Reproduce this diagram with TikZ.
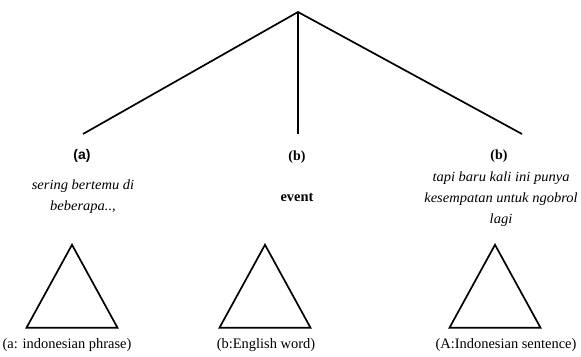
\documentclass[tikz,border=0pt]{standalone}
\usepackage{fontspec}
\setmainfont{Liberation Serif}
\setsansfont{Liberation Sans}
\newfontfamily\wideit[FakeStretch=1.04]{Liberation Serif Italic}
\usepackage{tikz}
\usetikzlibrary{shapes.geometric,positioning}

\begin{document}
\begin{tikzpicture}[x=1bp,y=-1bp,
  branch/.style={line width=1.7bp,black},
  tag/.style={font=\bfseries\fontsize{14}{16}\selectfont,inner sep=1pt},
  words/.style={font=\wideit\fontsize{14}{21}\selectfont,align=center,inner sep=1pt},
  tri/.style={draw,line width=1.7bp,isosceles triangle,isosceles triangle apex angle=57.5,
    shape border rotate=90,minimum height=83bp,inner sep=0pt,anchor=apex},
  gloss/.style={font=\fontsize{14.5}{16}\selectfont,inner sep=1pt}]
\useasboundingbox (0,0) rectangle (581,356);
\coordinate (root) at (298,12);
\coordinate (la) at (83,134);
\coordinate (lb) at (298,134);
\coordinate (lc) at (522,134);
\draw[branch] (la)--(root)--(lc);
\draw[branch] (root)--(lb);
\node[tag,font=\sffamily\bfseries\fontsize{14}{16}\selectfont] (ta) at (82,156) {(a)};
\node[tag] (tb) at (297,157) {(b)};
\node[tag] (tc) at (499,156) {(b)};
\node[words] (wa) at (83,197) {sering bertemu di\\ beberapa..,};
\node[tag,font=\bfseries\fontsize{14.5}{16}\selectfont] (wb) at (297,197) {event};
\node[words] (wc) at (501,199) {tapi baru kali ini punya\\ kesempatan untuk ngobrol\\ lagi};
\node[tri] (xa) at (72,243) {};
\node[tri] (xb) at (265,243) {};
\node[tri] (xc) at (495,243) {};
\node[gloss] (ga) at (67,345) {(a: indonesian phrase)};
\node[gloss] (gb) at (266,345) {(b:English word)};
\node[gloss] (gc) at (506,345) {(A:Indonesian sentence)};
\end{tikzpicture}
\end{document}
